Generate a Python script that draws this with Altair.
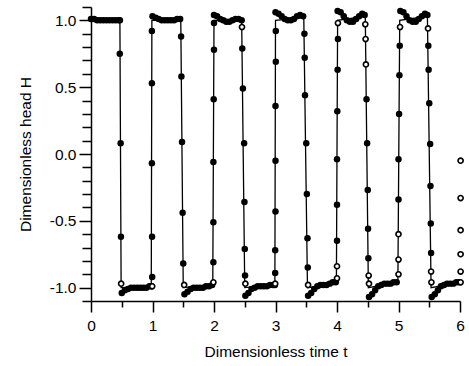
import altair as alt
import pandas as pd

# ---- data ----
# solid curve (vertices, in drawing order)
line_t = [0.00, 0.47, 0.49, 0.98, 0.99, 1.46, 1.50, 1.98, 2.00, 2.45, 2.50, 2.99,
          3.00, 3.46, 3.52, 3.99, 4.01, 4.46, 4.51, 4.99, 5.02, 5.47, 5.53, 6.00]
line_h = [1.00, 1.00, -1.00, -0.99, 1.00, 1.00, -1.00, -0.98, 1.00, 1.00, -1.00, -0.98,
          1.00, 1.02, -1.00, -0.97, 1.00, 1.03, -1.00, -0.96, 1.00, 1.03, -1.00, -0.96]

# filled dots on the plateaus
plateau_t = [0.00, 0.05, 0.10, 0.15, 0.20, 0.25, 0.30, 0.35, 0.40, 0.45, 0.47,
             0.50, 0.55, 0.60, 0.65, 0.70, 0.75, 0.80, 0.85, 0.90, 0.95, 0.98,
             1.00, 1.05, 1.10, 1.15, 1.20, 1.25, 1.30, 1.35, 1.40, 1.45,
             1.52, 1.57, 1.62, 1.67, 1.72, 1.77, 1.82, 1.87, 1.92, 1.97,
             2.00, 2.05, 2.10, 2.15, 2.20, 2.25, 2.30, 2.35, 2.40, 2.45,
             2.51, 2.56, 2.61, 2.66, 2.71, 2.76, 2.81, 2.86, 2.91, 2.96, 2.99,
             3.00, 3.05, 3.10, 3.15, 3.20, 3.25, 3.30, 3.35, 3.40, 3.45,
             3.53, 3.58, 3.63, 3.68, 3.73, 3.78, 3.83, 3.88, 3.93, 3.98,
             4.01, 4.06, 4.11, 4.16, 4.21, 4.26, 4.31, 4.36, 4.41, 4.45,
             4.52, 4.57, 4.62, 4.67, 4.72, 4.77, 4.82, 4.87, 4.92, 4.97,
             5.03, 5.08, 5.13, 5.18, 5.23, 5.28, 5.33, 5.38, 5.43, 5.47,
             5.54, 5.59, 5.64, 5.69, 5.74, 5.79, 5.84, 5.89, 5.94, 5.98]
plateau_h = [1.01, 1.01, 1.00, 1.00, 1.00, 1.00, 1.00, 1.00, 1.00, 1.00, 1.00,
             -1.04, -1.02, -1.01, -1.00, -1.00, -1.00, -1.00, -1.00, -1.00, -0.99, -0.99,
             1.03, 1.02, 1.01, 1.00, 1.00, 1.00, 1.00, 1.00, 1.01, 1.01,
             -1.05, -1.03, -1.01, -1.00, -1.00, -1.00, -1.00, -0.99, -0.99, -0.98,
             1.04, 1.03, 1.01, 1.00, 0.99, 0.99, 1.00, 1.01, 1.01, 1.00,
             -1.06, -1.04, -1.01, -1.00, -0.99, -0.99, -0.99, -0.99, -0.98, -0.98, -0.98,
             1.06, 1.05, 1.03, 1.01, 1.00, 1.00, 1.01, 1.03, 1.04, 1.03,
             -1.06, -1.04, -1.01, -0.99, -0.98, -0.98, -0.98, -0.97, -0.96, -0.96,
             1.07, 1.06, 1.03, 1.00, 0.99, 0.99, 1.01, 1.03, 1.05, 1.04,
             -1.07, -1.05, -1.02, -0.99, -0.98, -0.97, -0.97, -0.97, -0.96, -0.96,
             1.07, 1.06, 1.03, 1.00, 0.99, 0.99, 1.01, 1.03, 1.05, 1.04,
             -1.07, -1.05, -1.02, -0.99, -0.98, -0.97, -0.97, -0.97, -0.96, -0.96]

# filled dots on the switching fronts
edge_t = [0.468, 0.482, 0.487,
          0.995, 0.993, 0.990, 0.990, 0.990,
          1.465, 1.470, 1.480, 1.490, 1.500,
          1.990, 1.990, 1.990, 1.995, 2.000, 2.000,
          2.460, 2.470, 2.490, 2.495, 2.500, 2.505,
          2.995, 2.995, 3.000, 3.000, 3.000, 3.005, 3.005,
          3.470, 3.475, 3.480, 3.500, 3.510, 3.520, 3.525,
          4.000, 4.000, 4.000, 4.005, 4.010, 4.015,
          4.480, 4.490, 4.500, 4.505, 4.510,
          5.000, 5.000, 5.010, 5.015, 5.020,
          5.485, 5.490, 5.500, 5.515, 5.520, 5.525, 5.530]
edge_h = [0.75, 0.08, -0.62,
          -0.92, -0.62, -0.07, 0.53, 0.92,
          0.88, 0.58, 0.09, -0.44, -0.82,
          -0.81, -0.51, -0.06, 0.41, 0.78, 0.98,
          0.79, 0.49, 0.08, -0.36, -0.71, -0.91,
          -0.89, -0.72, -0.43, -0.05, 0.36, 0.69, 0.92,
          0.90, 0.72, 0.44, 0.08, -0.30, -0.63, -0.85,
          -0.65, -0.38, -0.04, 0.32, 0.63, 0.86,
          0.41, 0.08, -0.27, -0.56, -0.78,
          -0.34, -0.04, 0.30, 0.59, 0.81,
          0.81, 0.63, 0.38, 0.075, -0.24, -0.52, -0.74]

# open circles
open_t = [0.490, 0.995, 1.515, 1.990, 2.455, 2.510, 2.995, 3.530,
          4.000, 4.000, 4.015, 4.460, 4.465, 4.470, 4.515, 4.520,
          5.000, 5.000, 5.000, 5.025, 5.480, 5.530, 5.535,
          6.010, 6.010, 6.010, 6.010, 6.010, 6.010]
open_h = [-0.97, -0.99, -0.98, -0.96, 0.95, -0.97, -0.97, -0.98,
          -0.84, -0.93, 0.98, 0.97, 0.86, 0.67, -0.91, -0.97,
          -0.60, -0.79, -0.90, 0.95, 0.94, -0.88, -0.96,
          -0.05, -0.33, -0.57, -0.75, -0.88, -0.96]

x_major = [0, 1, 2, 3, 4, 5, 6]
x_minor = [0.5, 1.5, 2.5, 3.5, 4.5, 5.5]
y_major = [-1.0, -0.5, 0.0, 0.5, 1.0]
y_minor = [-1.1, -0.9, -0.8, -0.7, -0.6, -0.4, -0.3, -0.2, -0.1,
           0.1, 0.2, 0.3, 0.4, 0.6, 0.7, 0.8, 0.9, 1.1]

# ---- tables ----
line_df = pd.DataFrame({"t": line_t, "H": line_h, "i": list(range(len(line_t)))})
filled_df = pd.DataFrame({"t": plateau_t + edge_t, "H": plateau_h + edge_h})
open_df = pd.DataFrame({"t": open_t, "H": open_h})

FONT = "Liberation Sans"

xscale = alt.Scale(domain=[0, 6], nice=False, zero=False)
yscale = alt.Scale(domain=[-1.1, 1.1], nice=False, zero=False)

x_axis_major = alt.Axis(
    orient="bottom", values=x_major, format="d", tickSize=11, labelPadding=6,
    labelFlush=False, grid=False, title="Dimensionless time t", titlePadding=11,
)
y_axis_major = alt.Axis(
    orient="left", values=y_major, tickSize=12, labelPadding=3, labelFlush=False,
    grid=False,
    labelExpr="(datum.value < -0.001 ? '-' : '') + format(abs(datum.value), '.1f')",
    title="Dimensionless head H", titlePadding=16,
)
x_axis_minor = alt.Axis(
    orient="bottom", values=x_minor, tickSize=6, labels=False, domain=False,
    grid=False, title=None,
)
y_axis_minor = alt.Axis(
    orient="left", values=y_minor, tickSize=9, labels=False, domain=False,
    grid=False, title=None,
)

line = alt.Chart(line_df).mark_line(color="black", strokeWidth=1.3).encode(
    x=alt.X("t:Q", scale=xscale, axis=x_axis_major),
    y=alt.Y("H:Q", scale=yscale, axis=y_axis_major),
    order="i:Q",
)
filled = alt.Chart(filled_df).mark_point(
    shape="circle", filled=True, color="black", size=42, opacity=1
).encode(
    x=alt.X("t:Q", scale=xscale, axis=x_axis_minor),
    y=alt.Y("H:Q", scale=yscale, axis=y_axis_minor),
)
opened = alt.Chart(open_df).mark_point(
    shape="circle", filled=False, fill="white", fillOpacity=1, stroke="black",
    strokeWidth=1.6, size=26, opacity=1
).encode(
    x=alt.X("t:Q", scale=xscale, axis=None),
    y=alt.Y("H:Q", scale=yscale, axis=None),
)

chart = alt.layer(line, filled, opened).resolve_axis(
    x="independent", y="independent"
).properties(
    width=469, height=366,
    autosize=alt.AutoSizeParams(type="fit", contains="padding"),
    padding={"left": 18, "top": 6, "right": 2, "bottom": 6},
    background="white",
).configure_view(strokeWidth=0).configure_axis(
    domainColor="black", domainWidth=1.5, tickColor="black", tickWidth=1.5,
    labelColor="black", labelFont=FONT, labelFontSize=15.5,
    titleColor="black", titleFont=FONT, titleFontSize=15.5, titleFontWeight="normal",
)

chart.save("out.html", embed_options={"renderer": "svg", "actions": False})
